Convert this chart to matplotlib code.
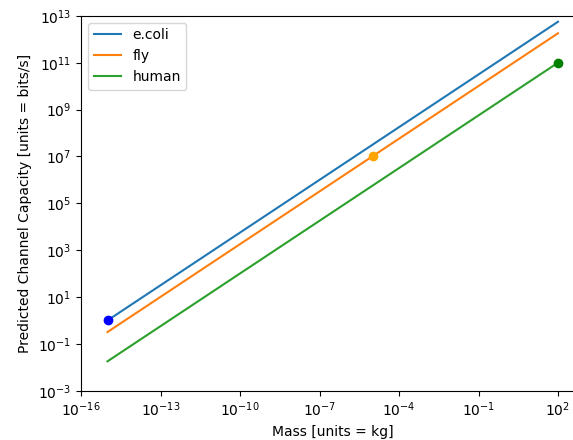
import matplotlib
matplotlib.use("Agg")
import matplotlib.pyplot as plt
from matplotlib.ticker import NullLocator

# line endpoints (log-log straight lines)
mass_range = [1e-15, 1e2]
ecoli_capacity = [1.0, 5.6e12]
fly_capacity = [0.32, 1.8e12]
human_capacity = [0.018, 1.0e11]

# the highlighted organisms
point_mass = [1e-15, 1e-5, 1e2]
point_capacity = [1.0, 1e7, 1e11]
point_colors = ["blue", "orange", "green"]

fig = plt.figure(figsize=(5.73, 4.4), dpi=100)
ax = fig.add_axes([81 / 573, 0.112, (584.5 - 81) / 573, 0.852])

ax.plot(mass_range, ecoli_capacity, label="e.coli")
ax.plot(mass_range, fly_capacity, label="fly")
ax.plot(mass_range, human_capacity, label="human")
for m, c, col in zip(point_mass, point_capacity, point_colors):
    ax.plot(m, c, "o", color=col)

ax.set_xscale("log")
ax.set_yscale("log")
ax.set_xlim(1e-16, 1e3)
ax.set_ylim(1e-3, 1e13)
ax.xaxis.set_minor_locator(NullLocator())
ax.yaxis.set_minor_locator(NullLocator())
ax.set_xlabel("Mass [units = kg]")
ax.set_ylabel("Predicted Channel Capacity [units = bits/s]")
ax.legend(loc="upper left")

fig.savefig("out.png", dpi=100)
